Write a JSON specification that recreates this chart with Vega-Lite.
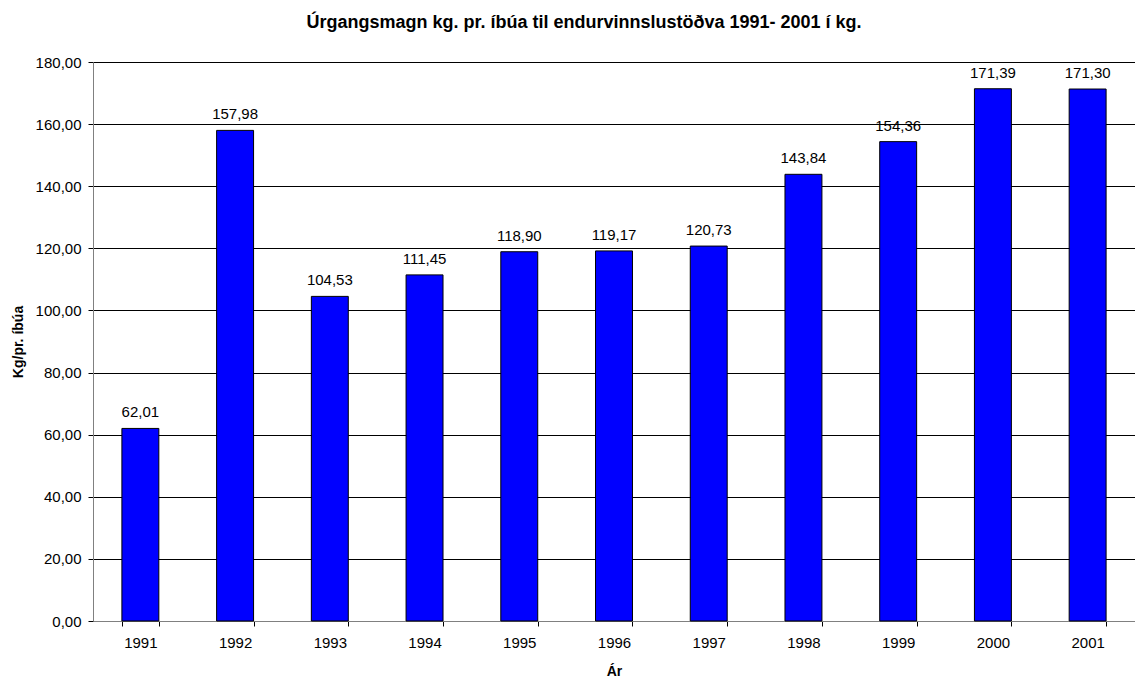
{
  "$schema": "https://vega.github.io/schema/vega-lite/v6.json",
  "width": 1042,
  "height": 559,
  "autosize": "none",
  "padding": {"left": 93, "top": 62, "right": 0, "bottom": 56},
  "background": "white",
  "title": {
    "text": "Úrgangsmagn kg. pr. íbúa til endurvinnslustöðva 1991- 2001 í kg.",
    "font": "Liberation Sans",
    "fontSize": 18,
    "fontWeight": "bold",
    "color": "black",
    "anchor": "middle",
    "frame": "group",
    "dx": -30,
    "offset": 23
  },
  "config": {
    "locale": {"number": {"decimal": ",", "thousands": ".", "grouping": [3], "currency": ["", " kr."]}},
    "view": {"stroke": null},
    "font": "Liberation Sans"
  },
  "data": {
    "values": [
      {"year": "1991", "value": 62.01},
      {"year": "1992", "value": 157.98},
      {"year": "1993", "value": 104.53},
      {"year": "1994", "value": 111.45},
      {"year": "1995", "value": 118.90},
      {"year": "1996", "value": 119.17},
      {"year": "1997", "value": 120.73},
      {"year": "1998", "value": 143.84},
      {"year": "1999", "value": 154.36},
      {"year": "2000", "value": 171.39},
      {"year": "2001", "value": 171.30}
    ]
  },
  "encoding": {
    "x": {
      "field": "year",
      "type": "ordinal",
      "scale": {"paddingInner": 0.61, "paddingOuter": 0.305},
      "axis": {
        "title": "Ár",
        "titleFont": "Liberation Sans",
        "titleFontSize": 14,
        "titleFontWeight": "bold",
        "titleColor": "black",
        "titlePadding": 14,
        "labelFont": "Liberation Sans",
        "labelFontSize": 15,
        "labelColor": "black",
        "labelAngle": 0,
        "labelPadding": 9,
        "tickBand": "extent",
        "tickSize": 5,
        "tickColor": "black",
        "domainColor": "#808080",
        "grid": false
      }
    },
    "y": {
      "field": "value",
      "type": "quantitative",
      "scale": {"domain": [0, 180], "nice": false},
      "axis": {
        "title": "Kg/pr. íbúa",
        "titleFont": "Liberation Sans",
        "titleFontSize": 14,
        "titleFontWeight": "bold",
        "titleColor": "black",
        "titlePadding": 10,
        "values": [0, 20, 40, 60, 80, 100, 120, 140, 160, 180],
        "format": ".2f",
        "labelFont": "Liberation Sans",
        "labelFontSize": 15,
        "labelColor": "black",
        "labelPadding": 7,
        "tickSize": 5,
        "tickColor": "black",
        "domainColor": "#808080",
        "grid": true,
        "gridColor": "black",
        "gridOpacity": 1
      }
    }
  },
  "layer": [
    {
      "mark": {"type": "bar", "fill": "#0000FF", "stroke": "black", "strokeWidth": 1}
    },
    {
      "mark": {"type": "text", "baseline": "alphabetic", "dy": -11, "fontSize": 15, "font": "Liberation Sans", "color": "black"},
      "encoding": {"text": {"field": "value", "type": "quantitative", "format": ".2f"}}
    }
  ]
}
